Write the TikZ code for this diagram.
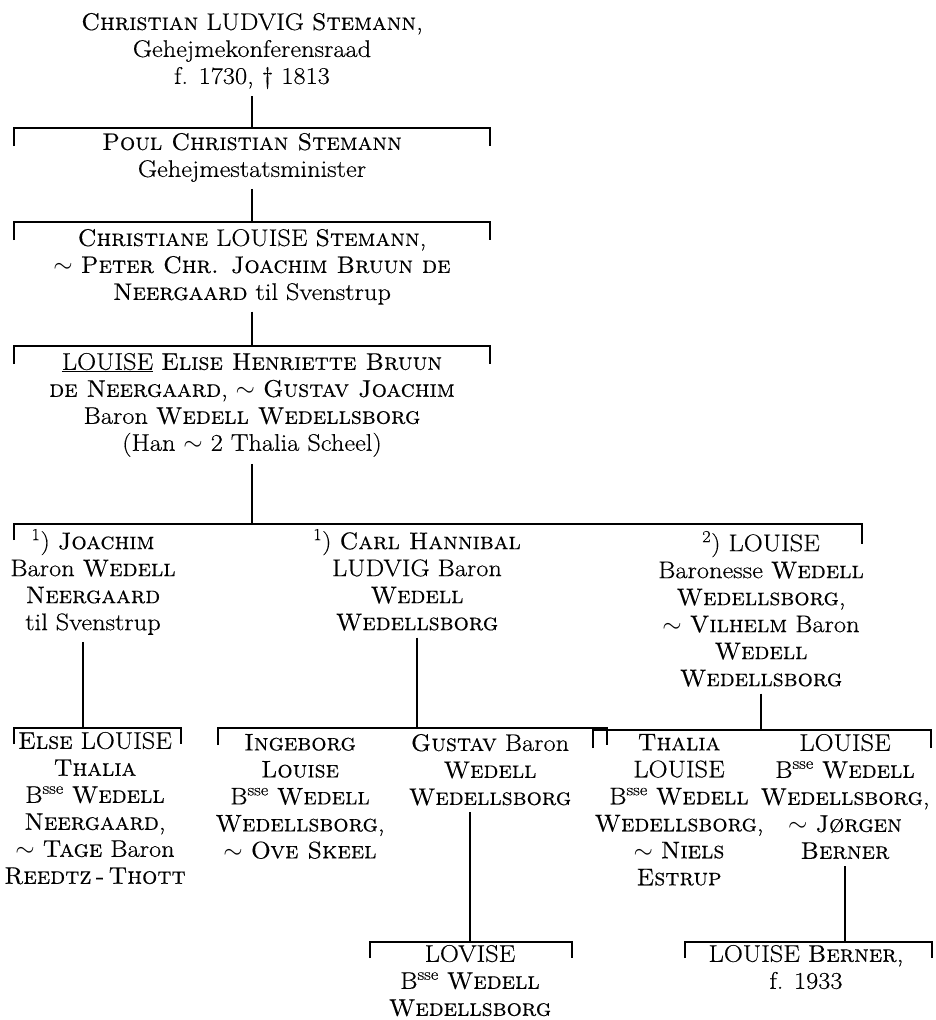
\documentclass[tikz,border=0pt]{standalone}
\usepackage{fontspec}
\setmainfont{Latin Modern Roman}[
  UprightFeatures={FakeStretch=1.1, FakeBold=0.4},
  SmallCapsFont={Latin Modern Roman Caps},
  SmallCapsFeatures={FakeStretch=1.0, FakeBold=0.4}]
\begin{document}
\begin{tikzpicture}[
    x=1pt, y=-1pt,
    person/.style={font=\fontsize{24}{27}\selectfont, align=center, anchor=north, inner sep=0pt, outer ysep=7pt},
    line/.style={line width=1.6pt},
    bar/.style={line width=2pt},
]
\useasboundingbox (0,0) rectangle (935,1020);

% --- first three generations ---
\node[person] (christian) at (252, 6) {\textsc{Christian} LUDVIG \textsc{Stemann},\\ Gehejmekonferensraad\\ f. 1730, \textdagger\ 1813};
\node[person] (poul) at (252, 126) {\textsc{Poul Christian Stemann}\\ Gehejmestatsminister};
\node[person] (christiane) at (252, 222) {\textsc{Christiane} LOUISE \textsc{Stemann},\\ $\sim$ \textsc{Peter Chr. Joachim Bruun de}\\ \textsc{Neergaard} til Svenstrup};
\node[person] (louise) at (252, 346) {\underline{LOUISE} \textsc{Elise Henriette Bruun}\\ \textsc{de Neergaard}, $\sim$ \textsc{Gustav Joachim}\\ Baron \textsc{Wedell Wedellsborg}\\ (Han $\sim$ 2 Thalia Scheel)};

\coordinate (b1l) at (14, 128);  \coordinate (b1r) at (490, 128);
\coordinate (b2l) at (14, 222);  \coordinate (b2r) at (490, 222);
\coordinate (b3l) at (14, 346);  \coordinate (b3r) at (490, 346);
\draw[line] (christian.south) -- (christian.south |- b1l);
\draw[bar] (b1l) ++(0,18) -- (b1l) -- (b1r) -- ++(0,18);
\draw[line] (poul.south) -- (poul.south |- b2l);
\draw[bar] (b2l) ++(0,18) -- (b2l) -- (b2r) -- ++(0,18);
\draw[line] (christiane.south) -- (christiane.south |- b3l);
\draw[bar] (b3l) ++(0,18) -- (b3l) -- (b3r) -- ++(0,18);

% --- children of Louise ---
\node[person] (joachim) at (93, 522) {\textsuperscript{1}) \textsc{Joachim}\\ Baron \textsc{Wedell}\\ \textsc{Neergaard}\\ til Svenstrup};
\node[person] (carl) at (417, 522) {\textsuperscript{1}) \textsc{Carl Hannibal}\\ LUDVIG Baron\\ \textsc{Wedell}\\ \textsc{Wedellsborg}};
\node[person] (louisew) at (761, 524) {\textsuperscript{2}) LOUISE\\ Baronesse \textsc{Wedell}\\ \textsc{Wedellsborg},\\ $\sim$ \textsc{Vilhelm} Baron\\ \textsc{Wedell}\\ \textsc{Wedellsborg}};

\coordinate (b4l) at (14, 524);  \coordinate (b4r) at (862, 524);
\draw[line] (louise.south) -- (louise.south |- b4l);
\draw[bar] (b4l) ++(0,16) -- (b4l) -- (b4r) -- ++(0,20);

% --- grandchildren ---
\node[person] (else) at (95, 725) {\textsc{Else} LOUISE\\ \textsc{Thalia}\\ B\textsuperscript{sse} \textsc{Wedell}\\ \textsc{Neergaard},\\ $\sim$ \textsc{Tage} Baron\\ \textsc{Reedtz\,-\,Thott}};
\node[person] (ingeborg) at (300, 727) {\textsc{Ingeborg}\\ \textsc{Louise}\\ B\textsuperscript{sse} \textsc{Wedell}\\ \textsc{Wedellsborg},\\ $\sim$ \textsc{Ove Skeel}};
\node[person] (gustav) at (490, 727) {\textsc{Gustav} Baron\\ \textsc{Wedell}\\ \textsc{Wedellsborg}};
\node[person] (thalia) at (679, 727) {\textsc{Thalia}\\ LOUISE\\ B\textsuperscript{sse} \textsc{Wedell}\\ \textsc{Wedellsborg},\\ $\sim$ \textsc{Niels}\\ \textsc{Estrup}};
\node[person] (louiseb) at (845, 727) {LOUISE\\ B\textsuperscript{sse} \textsc{Wedell}\\ \textsc{Wedellsborg},\\ $\sim$ \textsc{Jørgen}\\ \textsc{Berner}};

\coordinate (b5l) at (14, 728);   \coordinate (b5r) at (181, 728);
\coordinate (b6l) at (218, 728);  \coordinate (b6r) at (607, 728);
\coordinate (b7l) at (593, 730);  \coordinate (b7r) at (931, 730);
\draw[line] ([xshift=-10pt]joachim.south) -- ([xshift=-10pt]joachim.south |- b5l);
\draw[bar] (b5l) ++(0,16) -- (b5l) -- (b5r) -- ++(0,16);
\draw[line] (carl.south) -- (carl.south |- b6l);
\draw[bar] (b6l) ++(0,17) -- (b6l) -- (b6r) -- ++(0,17);
\draw[line] (louisew.south) -- (louisew.south |- b7l);
\draw[bar] (b7l) ++(0,18) -- (b7l) -- (b7r) -- ++(0,18);

% --- great-grandchildren ---
\node[person] (lovise) at (470, 938) {LOVISE\\ B\textsuperscript{sse} \textsc{Wedell}\\ \textsc{Wedellsborg}};
\node[person] (berner) at (806, 938) {LOUISE \textsc{Berner},\\ f. 1933};

\coordinate (b8l) at (370, 942);  \coordinate (b8r) at (572, 942);
\coordinate (b9l) at (685, 942);  \coordinate (b9r) at (932, 942);
\draw[line] ([xshift=-20pt]gustav.south) -- ([xshift=-20pt]gustav.south |- b8l);
\draw[bar] (b8l) ++(0,16) -- (b8l) -- (b8r) -- ++(0,16);
\draw[line] (louiseb.south) -- (louiseb.south |- b9l);
\draw[bar] (b9l) ++(0,16) -- (b9l) -- (b9r) -- ++(0,16);

\end{tikzpicture}
\end{document}
